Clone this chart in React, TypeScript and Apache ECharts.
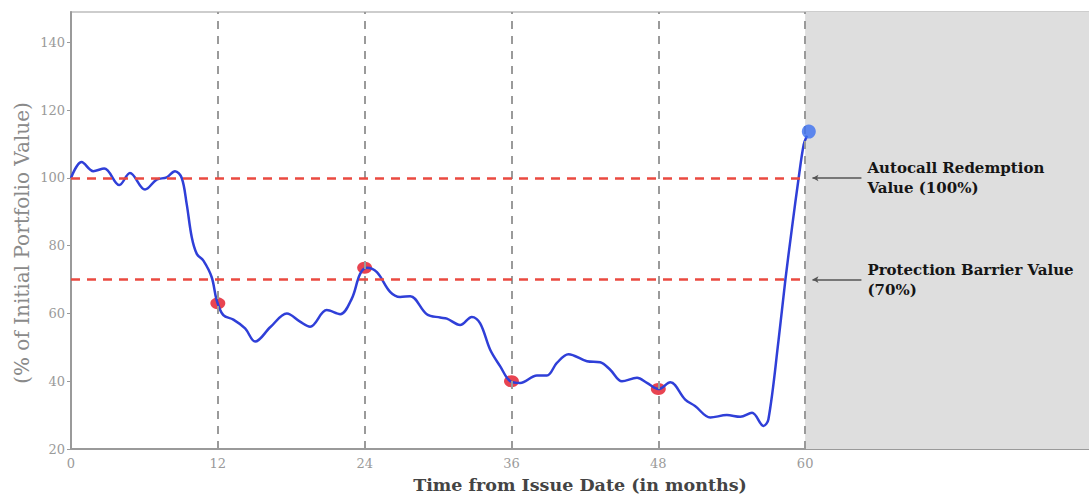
import React, { useEffect, useRef } from "react";
import * as echarts from "echarts";

const months = [0, 0.87, 1.82, 2.72, 3.95, 4.82, 6.05, 7.0, 7.82, 8.5, 9.05, 9.46, 9.87, 10.28, 10.82, 11.5, 11.91, 12.45, 13.27, 14.23, 15.05, 16.3, 17.64, 18.72, 19.54, 20.9, 22.0, 22.95, 23.63, 24.18, 25.0, 26.08, 26.9, 27.72, 29.08, 30.17, 30.72, 31.8, 32.76, 33.44, 34.26, 35.08, 35.9, 36.71, 38.08, 38.9, 39.71, 40.66, 42.17, 43.25, 44.07, 45.03, 46.26, 47.07, 48.02, 48.98, 50.2, 51.0, 52.25, 53.6, 54.7, 55.66, 56.6, 57.0, 57.83, 58.38, 58.93, 59.47, 59.88, 60.15];
const portfolioValues = [100, 104.7, 102.0, 102.8, 97.9, 101.5, 96.6, 99.5, 100.2, 102.0, 100.0, 92.2, 82.5, 77.6, 75.6, 70.7, 63.9, 59.5, 58.2, 55.6, 51.7, 56.0, 60.0, 57.6, 56.1, 61.0, 59.8, 64.4, 71.7, 73.5, 72.2, 66.4, 64.9, 65.1, 59.8, 58.8, 58.5, 56.6, 59.0, 57.1, 49.3, 44.4, 40.0, 39.5, 41.7, 41.7, 45.4, 48.0, 45.9, 45.6, 43.4, 40.0, 41.0, 39.5, 37.7, 39.7, 34.6, 32.7, 29.3, 30.0, 29.5, 30.7, 26.8, 28.8, 52.2, 69.8, 85.4, 100.0, 109.8, 112.5];

const observationMonths = [12, 24, 36, 48];
const observationValues = [63, 73.5, 40, 37.7];
const redemptionMonth = [60.3];
const redemptionValue = [113.7];

const autocallLevel = 100;
const barrierLevel = 70;
const maturityMonth = 60;
const xTickLabels = [0, 12, 24, 36, 48, 60];
const yTickLabels = [20, 40, 60, 80, 100, 120, 140];

const xMax = 83.2;
const yMin = 20;
const yMax = 149;

const SERIF = "'DejaVu Serif', 'Liberation Serif', serif";

export default function App() {
  const ref = useRef<HTMLDivElement>(null);
  useEffect(() => {
    if (!ref.current) return;
    const chart = echarts.init(ref.current, undefined, { renderer: "svg" });
    const lineData = months.map((m, i) => [m, portfolioValues[i]]);
    const obsData = observationMonths.map((m, i) => [m, observationValues[i]]);
    const finalData = redemptionMonth.map((m, i) => [m, redemptionValue[i]]);

    chart.setOption({
      animation: false,
      backgroundColor: "#ffffff",
      grid: {
        left: 71,
        right: 0,
        top: 12,
        bottom: 46,
        show: true,
        borderColor: "#bdbdbd",
        borderWidth: 1.5,
      },
      xAxis: {
        type: "value",
        min: 0,
        max: xMax,
        interval: 12,
        name: "Time from Issue Date (in months)",
        nameLocation: "middle",
        nameGap: 27,
        nameTextStyle: { fontFamily: SERIF, fontSize: 17.5, color: "#444", fontWeight: 600 },
        axisLine: { show: true, lineStyle: { color: "#9a9a9a", width: 2 } },
        axisTick: { show: false },
        splitLine: { show: false },
        axisLabel: {
          fontFamily: SERIF,
          fontSize: 13,
          color: "#9a9a9a",
          margin: 8,
          showMaxLabel: false,
          formatter: (v: number) => (xTickLabels.includes(v) ? String(v) : ""),
        },
      },
      yAxis: {
        type: "value",
        min: yMin,
        max: yMax,
        interval: 20,
        axisLine: { show: true, lineStyle: { color: "#9a9a9a", width: 2 } },
        axisTick: { show: true, length: 4, lineStyle: { color: "#9a9a9a" } },
        splitLine: { show: false },
        axisLabel: {
          fontFamily: SERIF,
          fontSize: 13,
          color: "#9a9a9a",
          margin: 6,
          showMaxLabel: false,
          formatter: (v: number) => (yTickLabels.includes(v) ? String(v) : ""),
        },
      },
      graphic: [
        {
          type: "text",
          x: 22,
          y: 243,
          rotation: Math.PI / 2,
          style: {
            text: "(% of Initial Portfolio Value)",
            fontFamily: SERIF,
            fontSize: 20,
            fill: "#8a8a8a",
            textAlign: "center",
            textVerticalAlign: "middle",
          },
        },
      ],
      series: [
        {
          type: "line",
          data: [],
          silent: true,
          markArea: {
            silent: true,
            itemStyle: { color: "#dedede" },
            data: [[{ xAxis: maturityMonth }, { xAxis: xMax }]],
          },
          markLine: {
            silent: true,
            symbol: ["none", "none"],
            label: { show: false },
            lineStyle: { color: "#9a9a9a", type: [8, 7], width: 2 },
            data: xTickLabels.filter((v) => v > 0).map((v) => ({ xAxis: v })),
          },
        },
        {
          type: "line",
          data: [],
          silent: true,
          markLine: {
            silent: true,
            symbol: ["none", "none"],
            label: { show: false },
            lineStyle: { color: "#ea4a40", type: [9, 7], width: 2.5 },
            data: [
              [{ coord: [0, autocallLevel] }, { coord: [maturityMonth, autocallLevel] }],
              [{ coord: [0, barrierLevel] }, { coord: [maturityMonth, barrierLevel] }],
            ],
          },
        },
        {
          type: "line",
          data: [],
          silent: true,
          markLine: {
            silent: true,
            symbol: ["arrow", "none"],
            symbolSize: [5, 6],
            lineStyle: { color: "#555", type: "solid", width: 1.5 },
            label: {
              show: true,
              position: "end",
              distance: 6,
              fontFamily: SERIF,
              fontWeight: "bold",
              fontSize: 15,
              color: "#151515",
              lineHeight: 20,
              align: "left",
            },
            data: [
              [
                { coord: [60.6, autocallLevel], label: { formatter: "Autocall Redemption\nValue (100%)" } },
                { coord: [64.6, autocallLevel] },
              ],
              [
                { coord: [60.6, barrierLevel], label: { formatter: "Protection Barrier Value\n(70%)" } },
                { coord: [64.6, barrierLevel] },
              ],
            ],
          },
        },
        {
          type: "scatter",
          data: obsData,
          symbolSize: [15, 12],
          itemStyle: { color: "#e6303e", opacity: 0.9 },
          z: 3,
        },
        {
          type: "line",
          data: lineData,
          smooth: 0.35,
          showSymbol: false,
          lineStyle: { color: "#2f3fd8", width: 2.5 },
          z: 4,
        },
        {
          type: "scatter",
          data: finalData,
          symbolSize: 14,
          itemStyle: { color: "#3b6ff0" },
          z: 5,
        },
      ],
    });
    return () => chart.dispose();
  }, []);
  return (
    <div
      ref={ref}
      style={{ position: "fixed", left: 0, top: 0, width: 1089, height: 499 }}
    />
  );
}
